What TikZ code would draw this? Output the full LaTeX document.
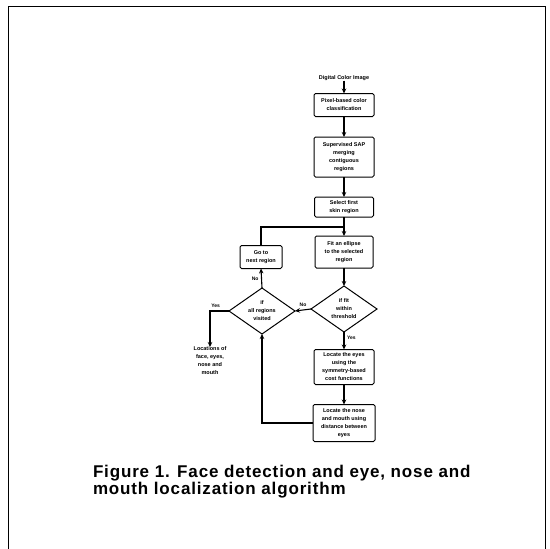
\documentclass[tikz,border=0pt]{standalone}
\usepackage{fontspec}
\setmainfont{Liberation Sans}
\usetikzlibrary{shapes.geometric,arrows.meta}
\begin{document}
\begin{tikzpicture}[x=1pt,y=-1pt,
  every node/.style={inner sep=0pt,outer sep=0pt},
  tiny/.style={font=\fontsize{5.5}{8}\selectfont\bfseries,align=center},
  box/.style={tiny,draw,line width=1pt,rounded corners=1.5pt},
  dia/.style={tiny,draw,line width=1pt,diamond,aspect=1.4,minimum width=66pt,minimum height=46pt},
  lab/.style={font=\fontsize{5}{6}\selectfont\bfseries},
  flow/.style={line width=1.1pt,-{Stealth[length=5pt,width=4.5pt]}},
  plain/.style={line width=1.1pt}]
\useasboundingbox (0,0) rectangle (550,549);
% border
\draw[line width=1pt] (8,552) -- (8,6) -- (545,6) -- (545,552);
% nodes
\node[tiny] (in) at (344,78) {Digital Color Image};
\node[box,minimum width=60pt,minimum height=23pt] (b1) at (344,105) {Pixel-based color\\classification};
\node[box,minimum width=60pt,minimum height=40pt] (b2) at (344,157) {Supervised SAP\\merging\\contiguous\\regions};
\node[box,minimum width=59pt,minimum height=20pt] (b3) at (344,207) {Select first\\skin region};
\node[box,minimum width=58pt,minimum height=32pt] (b4) at (344,252) {Fit an ellipse\\to the selected\\region};
\node[dia] (d1) at (344,309) {if fit\\within\\threshold};
\node[dia] (d2) at (262,311) {if\\all regions\\visited};
\node[box,minimum width=42pt,minimum height=23pt] (bg) at (261,257) {Go to\\next region};
\node[box,minimum width=60pt,minimum height=35pt] (b5) at (344,367) {Locate the eyes\\using the\\symmetry-based\\cost functions};
\node[box,minimum width=62pt,minimum height=37pt] (b6) at (344,423) {Locate the nose\\and mouth using\\distance between\\eyes};
\node[tiny,anchor=north] (out) at (210,347) {Locations of\\face, eyes,\\nose and\\mouth};
\coordinate (j) at (344,227);
% connectors
\draw[flow] (in) -- (b1);
\draw[flow] (b1) -- (b2);
\draw[flow] (b2) -- (b3);
\draw[flow] (b3) -- (b4);
\draw[plain] (bg.north) |- (j);
\draw[flow] (b4) -- (d1);
\draw[flow] (d1.west) -- node[lab,above=3pt] {No} (d2.east);
\draw[flow] (d1.south) -- node[lab,right=3pt,pos=0.35] {Yes} (b5.north);
\draw[flow] (b5) -- (b6);
\draw[flow] (b6.west) -| (d2.south);
\draw[flow] (d2.north) -- node[lab,left=3pt,pos=0.45] {No} (bg.south);
\draw[flow] (d2.west) -| node[lab,above=3pt,pos=0.35] {Yes} (out.north);
% caption
\node[anchor=north west,align=left,font=\fontsize{17}{15.5}\selectfont\bfseries\addfontfeature{LetterSpace=5}] (cap) at (93,465)
  {Figure 1. Face detection and eye, nose and\\mouth localization algorithm};
\end{tikzpicture}
\end{document}
